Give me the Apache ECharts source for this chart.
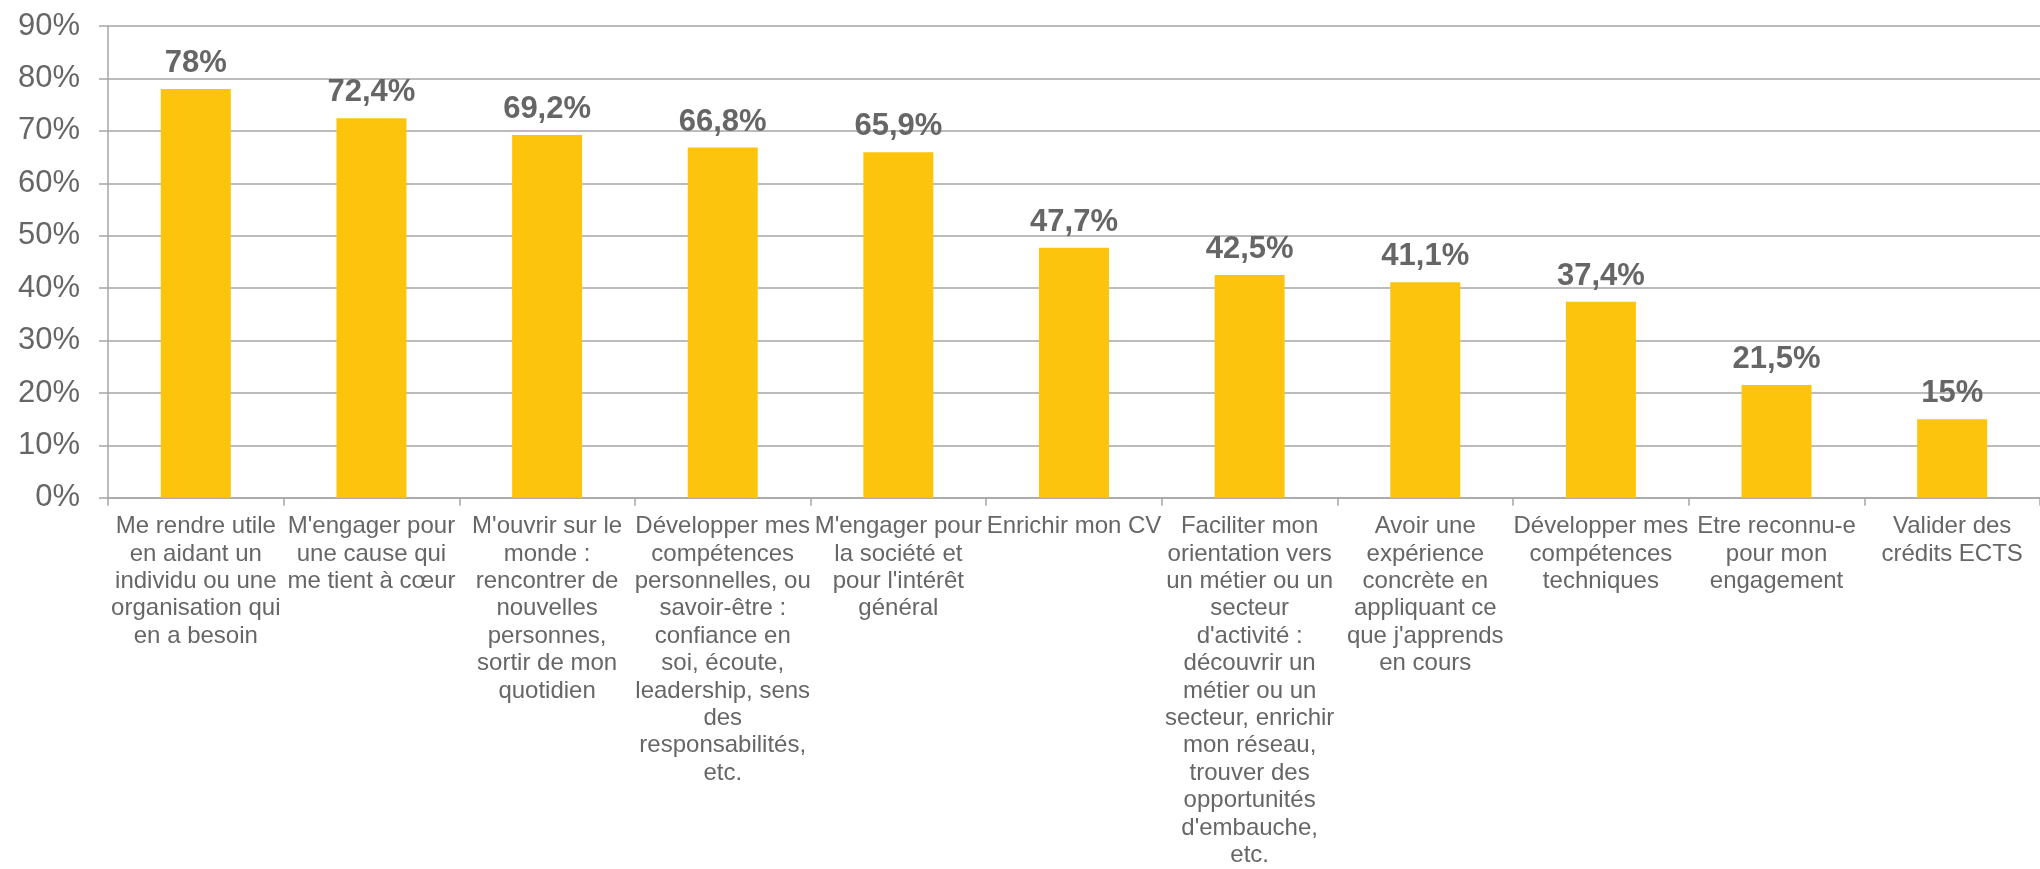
<!DOCTYPE html>
<html>
<head>
<meta charset="utf-8">
<script src="https://cdn.jsdelivr.net/npm/echarts@6/dist/echarts.min.js"></script>
<style>
html,body{margin:0;padding:0;background:#fff;}
#chart{width:2040px;height:869px;}
</style>
</head>
<body>
<div id="chart"></div>
<script>
var categories = [
    "Me rendre utile\nen aidant un\nindividu ou une\norganisation qui\nen a besoin",
    "M'engager pour\nune cause qui\nme tient à cœur",
    "M'ouvrir sur le\nmonde :\nrencontrer de\nnouvelles\npersonnes,\nsortir de mon\nquotidien",
    "Développer mes\ncompétences\npersonnelles, ou\nsavoir-être :\nconfiance en\nsoi, écoute,\nleadership, sens\ndes\nresponsabilités,\netc.",
    "M'engager pour\nla société et\npour l'intérêt\ngénéral",
    "Enrichir mon CV",
    "Faciliter mon\norientation vers\nun métier ou un\nsecteur\nd'activité :\ndécouvrir un\nmétier ou un\nsecteur, enrichir\nmon réseau,\ntrouver des\nopportunités\nd'embauche,\netc.",
    "Avoir une\nexpérience\nconcrète en\nappliquant ce\nque j'apprends\nen cours",
    "Développer mes\ncompétences\ntechniques",
    "Etre reconnu-e\npour mon\nengagement",
    "Valider des\ncrédits ECTS"
];
var values = [78, 72.4, 69.2, 66.8, 65.9, 47.7, 42.5, 41.1, 37.4, 21.5, 15];

var font = "'Liberation Sans', Arial, sans-serif";
var gray = '#a6a6a6';

var chart = echarts.init(document.getElementById('chart'));
chart.setOption({
    animation: false,
    grid: {left: 108, right: -10, top: 26, bottom: 369.5, containLabel: false},
    xAxis: {
        type: 'category',
        data: categories,
        axisLine: {lineStyle: {color: gray, width: 1.5}},
        axisTick: {show: true, length: 8, lineStyle: {color: gray, width: 1.5}},
        axisLabel: {
            interval: 0,
            margin: 15,
            color: '#666',
            fontFamily: font,
            fontSize: 24,
            lineHeight: 27.4,
            align: 'center'
        }
    },
    yAxis: {
        type: 'value',
        min: 0,
        max: 90,
        interval: 10,
        axisLine: {show: true, lineStyle: {color: gray, width: 1.5}},
        axisTick: {show: true, length: 9, lineStyle: {color: gray, width: 1.5}},
        splitLine: {lineStyle: {color: gray, width: 1.5}},
        axisLabel: {
            formatter: '{value}%',
            margin: 28,
            color: '#666',
            fontFamily: font,
            fontSize: 31
        }
    },
    series: [{
        type: 'bar',
        data: values,
        barWidth: 70,
        itemStyle: {color: '#fdc40d'},
        label: {
            show: true,
            position: 'top',
            distance: 10,
            color: '#666',
            fontFamily: font,
            fontSize: 31,
            fontWeight: 'bold',
            formatter: function (p) {
                return String(p.value).replace('.', ',') + '%';
            }
        }
    }]
});
</script>
</body>
</html>
